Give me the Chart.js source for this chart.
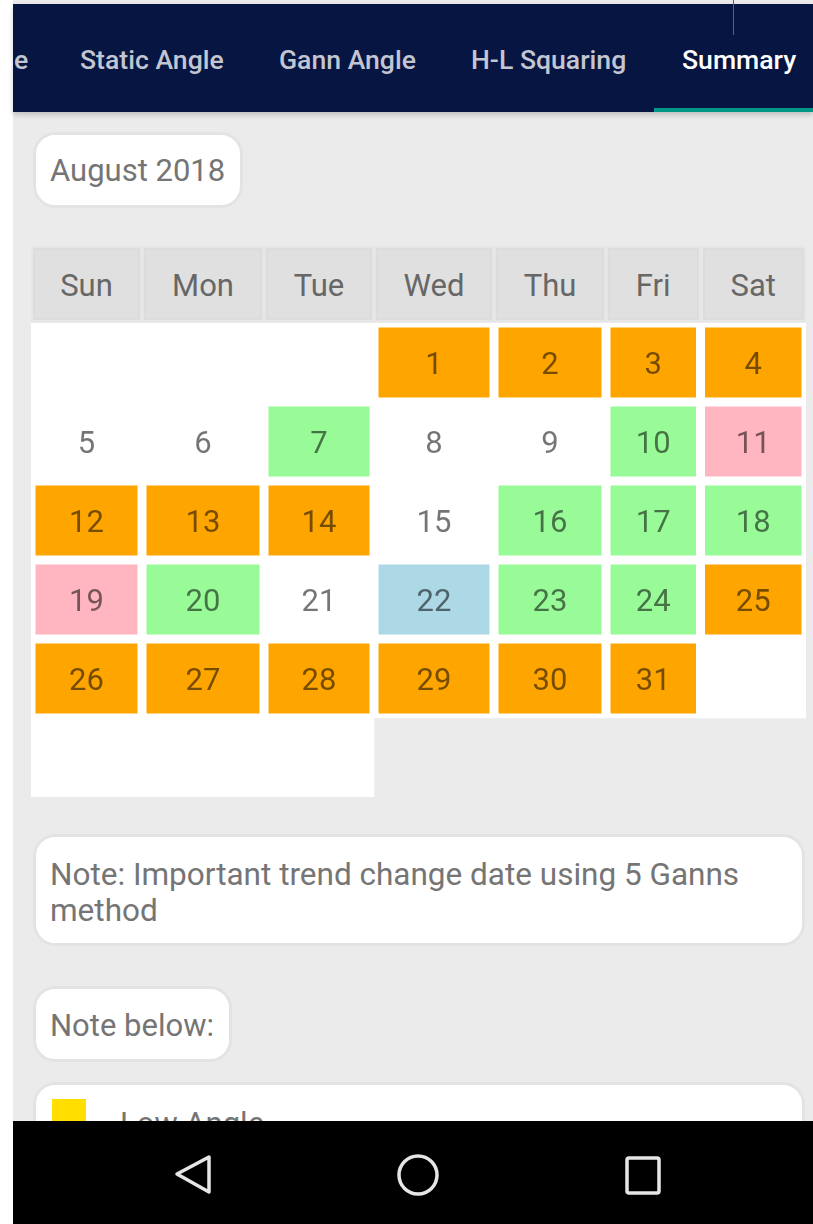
<!DOCTYPE html>
<html>
<head>
<meta charset="utf-8">
<script src="https://cdn.jsdelivr.net/npm/chart.js@4/dist/chart.umd.min.js"></script>
<style>
  html, body { margin: 0; padding: 0; }
  body { width: 813px; height: 1224px; background: #fff; position: relative; overflow: hidden; font-family: Roboto, 'Noto Sans', sans-serif; }
  .page { position: absolute; left: 13px; top: 0; width: 800px; height: 1224px; background: #ebebeb; }
  .nav { position: absolute; left: 13px; top: 4px; width: 800px; height: 108px; background: #061541; box-shadow: 0 3px 5px rgba(0,0,0,0.18); }
  .tab { position: absolute; top: 38px; font-size: 26.6px; font-weight: 500; color: #c3c6d1; white-space: nowrap; line-height: 36px; }
  .tab.active { color: #fff; }
  .underline { position: absolute; left: 641px; top: 104px; width: 159px; height: 4px; background: #009688; }
  .redline { position: absolute; left: 733px; top: 0; width: 1px; height: 35px; background: #a9472b; }
  .box { position: absolute; background: #fff; border: 3px solid #e3e3e3; border-radius: 22px; box-sizing: border-box; color: #757575; font-size: 31px; }
  .hdr { position: absolute; left: 31px; top: 246px; width: 775px; height: 76px; background: #e6e6e6; display: flex; }
  .hdr div { box-sizing: border-box; height: 72px; margin: 2px 2px; background: #e0e0e0; border: 2px solid #dcdcdc; color: #676767; font-size: 31px; text-align: center; line-height: 72px; }
  #wrap { position: absolute; left: 31px; top: 323px; width: 775px; height: 474px; }
  .navbar { position: absolute; left: 13px; top: 1121px; width: 800px; height: 103px; background: #000; }
</style>
</head>
<body>
<div class="page"></div>
<div class="nav">
  <div class="tab" style="left:1px">e</div>
  <div class="tab" style="left:67px">Static Angle</div>
  <div class="tab" style="left:266px">Gann Angle</div>
  <div class="tab" style="left:458px">H-L Squaring</div>
  <div class="tab active" style="left:669px">Summary</div>
  <div class="underline"></div>
</div>
<div class="redline"></div>

<div class="box" style="left:33px;top:132px;width:210px;height:76px;line-height:72px;padding-left:14px;">August 2018</div>

<div class="hdr" id="hdr"></div>
<div id="wrap"><canvas id="cal"></canvas></div>

<div class="box" style="left:33px;top:834px;width:772px;height:112px;padding:20px 0 0 14px;line-height:36px;font-size:31.5px;">Note: Important trend change date using 5 Ganns<br>method</div>
<div class="box" style="left:33px;top:986px;width:199px;height:76px;line-height:74px;padding-left:14px;">Note below:</div>
<div class="box" style="left:33px;top:1082px;width:772px;height:120px;">
  <div style="position:absolute;left:16px;top:14px;width:34px;height:34px;background:#ffde00;"></div>
  <div style="position:absolute;left:84px;top:21px;line-height:36px;">Low Angle</div>
</div>

<div class="navbar">
  <svg width="800" height="103" style="position:absolute;left:0;top:0">
    <path d="M196 36 L164 53 L196 71 Z" fill="none" stroke="#e6e6e6" stroke-width="3.5" stroke-linejoin="round"/>
    <circle cx="405" cy="54" r="19" fill="none" stroke="#e6e6e6" stroke-width="3.5"/>
    <rect x="614" y="37" width="32" height="35" rx="2" fill="none" stroke="#e6e6e6" stroke-width="3.5"/>
  </svg>
</div>

<script>
// ── calendar data: August 2018 ──
const weekdays = ['Sun', 'Mon', 'Tue', 'Wed', 'Thu', 'Fri', 'Sat'];
const weekRows = ['W1', 'W2', 'W3', 'W4', 'W5', 'W6'];
const firstWeekday = 3; // Aug 1 2018 = Wed
const dates = [1, 2, 3, 4, 5, 6, 7, 8, 9, 10, 11, 12, 13, 14, 15, 16,
               17, 18, 19, 20, 21, 22, 23, 24, 25, 26, 27, 28, 29, 30, 31];
const dateStatus = [
  'orange', 'orange', 'orange', 'orange', '', '', 'green', '', '', 'green', 'pink',
  'orange', 'orange', 'orange', '', 'green', 'green', 'green',
  'pink', 'green', '', 'blue', 'green', 'green', 'orange',
  'orange', 'orange', 'orange', 'orange', 'orange', 'orange',
];
const cellsPerRow = [7, 7, 7, 7, 7, 3]; // table cells present in each week row

// ── layout / style ──
const COL_WIDTHS = [111, 122, 110, 120, 112, 94.5, 105.5];
const CELL_PAD = 4.5;
const STATUS_COLORS = {
  orange: '#ffa500',
  green:  '#98fb98',
  pink:   '#ffb6c1',
  blue:   '#add8e6',
  '':     'rgba(0,0,0,0)',
};
const TEXT_COLOR = 'rgba(0,0,0,0.54)';

const colEdges = [0];
COL_WIDTHS.forEach(w => colEdges.push(colEdges[colEdges.length - 1] + w));
const tableWidth = colEdges[colEdges.length - 1];

// header row
const hdr = document.getElementById('hdr');
weekdays.forEach((d, i) => {
  const el = document.createElement('div');
  el.style.width = (COL_WIDTHS[i] - 4) + 'px';
  el.textContent = d;
  hdr.appendChild(el);
});

// white cell backgrounds per week row
const blankData = cellsPerRow.map(n => [0, colEdges[n]]);

// one dataset per weekday column
const colData = weekdays.map(() => weekRows.map(() => null));
const colColors = weekdays.map(() => weekRows.map(() => 'rgba(0,0,0,0)'));
const dayCells = [];
dates.forEach((d, i) => {
  const slot = firstWeekday + i;
  const row = Math.floor(slot / 7), col = slot % 7;
  colData[col][row] = [colEdges[col] + CELL_PAD, colEdges[col + 1] - CELL_PAD];
  colColors[col][row] = STATUS_COLORS[dateStatus[i]];
  dayCells.push({ d, row, col });
});

const dayLabels = {
  id: 'dayLabels',
  afterDatasetsDraw(chart) {
    const { ctx, scales: { x, y } } = chart;
    ctx.save();
    ctx.fillStyle = TEXT_COLOR;
    ctx.font = '31px Roboto, sans-serif';
    ctx.textAlign = 'center';
    ctx.textBaseline = 'alphabetic';
    dayCells.forEach(c => {
      const cx = x.getPixelForValue((colEdges[c.col] + colEdges[c.col + 1]) / 2);
      const cy = y.getPixelForValue(c.row);
      ctx.fillText(String(c.d), cx, cy + 11);
    });
    ctx.restore();
  },
};

new Chart(document.getElementById('cal'), {
  type: 'bar',
  data: {
    labels: weekRows,
    datasets: [
      ...weekdays.map((w, i) => ({
        label: w,
        data: colData[i],
        backgroundColor: colColors[i],
        barPercentage: 70 / 79,
        categoryPercentage: 1,
        grouped: false,
        order: 0,
      })),
      {
        label: 'blank',
        data: blankData,
        backgroundColor: '#ffffff',
        barPercentage: 1,
        categoryPercentage: 1,
        grouped: false,
        order: 1,
      },
    ],
  },
  options: {
    indexAxis: 'y',
    responsive: true,
    maintainAspectRatio: false,
    animation: false,
    layout: { padding: 0 },
    plugins: { legend: { display: false }, tooltip: { enabled: false } },
    scales: {
      x: { type: 'linear', min: 0, max: tableWidth, display: false },
      y: { type: 'category', display: false, offset: true },
    },
  },
  plugins: [dayLabels],
});
</script>
</body>
</html>
